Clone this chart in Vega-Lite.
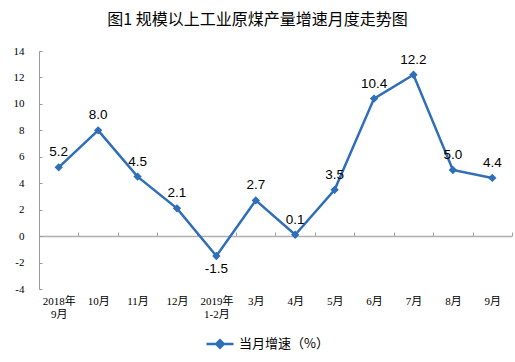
{
  "$schema": "https://vega.github.io/schema/vega-lite/v6.json",
  "autosize": {"type": "none"},
  "width": 473,
  "height": 238,
  "padding": {"left": 39, "top": 51, "right": 3, "bottom": 73},
  "background": "white",
  "title": {
    "text": "图1  规模以上工业原煤产量增速月度走势图",
    "font": "Noto Sans CJK SC",
    "fontSize": 16,
    "fontWeight": "normal",
    "color": "#000000",
    "anchor": "middle",
    "dx": -18,
    "offset": 17
  },
  "config": {"view": {"stroke": null}},
  "data": {
    "values": [
      {"month": "2018年|9月", "v": 5.2, "series": "当月增速（%）"},
      {"month": "10月", "v": 8.0, "series": "当月增速（%）"},
      {"month": "11月", "v": 4.5, "series": "当月增速（%）"},
      {"month": "12月", "v": 2.1, "series": "当月增速（%）"},
      {"month": "2019年|1-2月", "v": -1.5, "series": "当月增速（%）"},
      {"month": "3月", "v": 2.7, "series": "当月增速（%）"},
      {"month": "4月", "v": 0.1, "series": "当月增速（%）"},
      {"month": "5月", "v": 3.5, "series": "当月增速（%）"},
      {"month": "6月", "v": 10.4, "series": "当月增速（%）"},
      {"month": "7月", "v": 12.2, "series": "当月增速（%）"},
      {"month": "8月", "v": 5.0, "series": "当月增速（%）"},
      {"month": "9月", "v": 4.4, "series": "当月增速（%）"}
    ]
  },
  "transform": [
    {"calculate": "replace(format(datum.v, '.1f'), '\u2212', '-')", "as": "label"}
  ],
  "encoding": {
    "x": {
      "field": "month",
      "type": "nominal",
      "sort": null,
      "scale": {"paddingInner": 0, "paddingOuter": 0},
      "axis": {
        "title": null,
        "labelAngle": 0,
        "offset": -53,
        "domainColor": "#b0b0b0",
        "domainWidth": 1.5,
        "tickColor": "#a0a0a0",
        "tickWidth": 1,
        "tickSize": -4,
        "tickBand": "extent",
        "labelPadding": 63,
        "labelBaseline": "top",
        "labelFont": "Liberation Serif, Noto Sans CJK SC",
        "labelFontSize": 11,
        "labelColor": "#000000",
        "labelLineHeight": 13,
        "labelExpr": "datum.value ? split(datum.value, '|') : ''"
      }
    },
    "y": {
      "field": "v",
      "type": "quantitative",
      "scale": {"domain": [-4, 14], "nice": false, "zero": false},
      "axis": {
        "title": null,
        "values": [-4, -2, 0, 2, 4, 6, 8, 10, 12, 14],
        "grid": false,
        "domainColor": "#999999",
        "tickColor": "#999999",
        "tickSize": -3,
        "labelPadding": 18,
        "labelFont": "Liberation Serif",
        "labelFontSize": 11,
        "labelColor": "#000000",
        "labelExpr": "replace(datum.label, '\u2212', '-')"
      }
    }
  },
  "layer": [
    {
      "mark": {"type": "line", "strokeWidth": 2.5, "point": {"shape": "diamond", "size": 70, "filled": true, "opacity": 1}},
      "encoding": {
        "color": {
          "field": "series",
          "type": "nominal",
          "scale": {"range": ["#2f6eb8"]},
          "legend": {
            "title": null,
            "orient": "none",
            "legendX": 166,
            "legendY": 278,
            "symbolType": "M-1,0H1M-0.28,0L0,-0.28L0.28,0L0,0.28Z",
            "symbolSize": 729,
            "symbolStrokeWidth": 2.5,
            "symbolFillColor": "#2f6eb8",
            "symbolStrokeColor": "#2f6eb8",
            "labelFont": "Noto Sans CJK SC",
            "labelFontSize": 13,
            "labelColor": "#000000",
            "labelOffset": 4
          }
        }
      }
    },
    {
      "transform": [{"filter": "datum.v >= 0"}],
      "mark": {"type": "text", "dy": -15, "baseline": "middle", "font": "Liberation Sans", "fontSize": 13.5, "color": "#000000"},
      "encoding": {"text": {"field": "label", "type": "nominal"}}
    },
    {
      "transform": [{"filter": "datum.v < 0"}],
      "mark": {"type": "text", "dy": 13, "baseline": "middle", "font": "Liberation Sans", "fontSize": 13.5, "color": "#000000"},
      "encoding": {"text": {"field": "label", "type": "nominal"}}
    }
  ]
}
